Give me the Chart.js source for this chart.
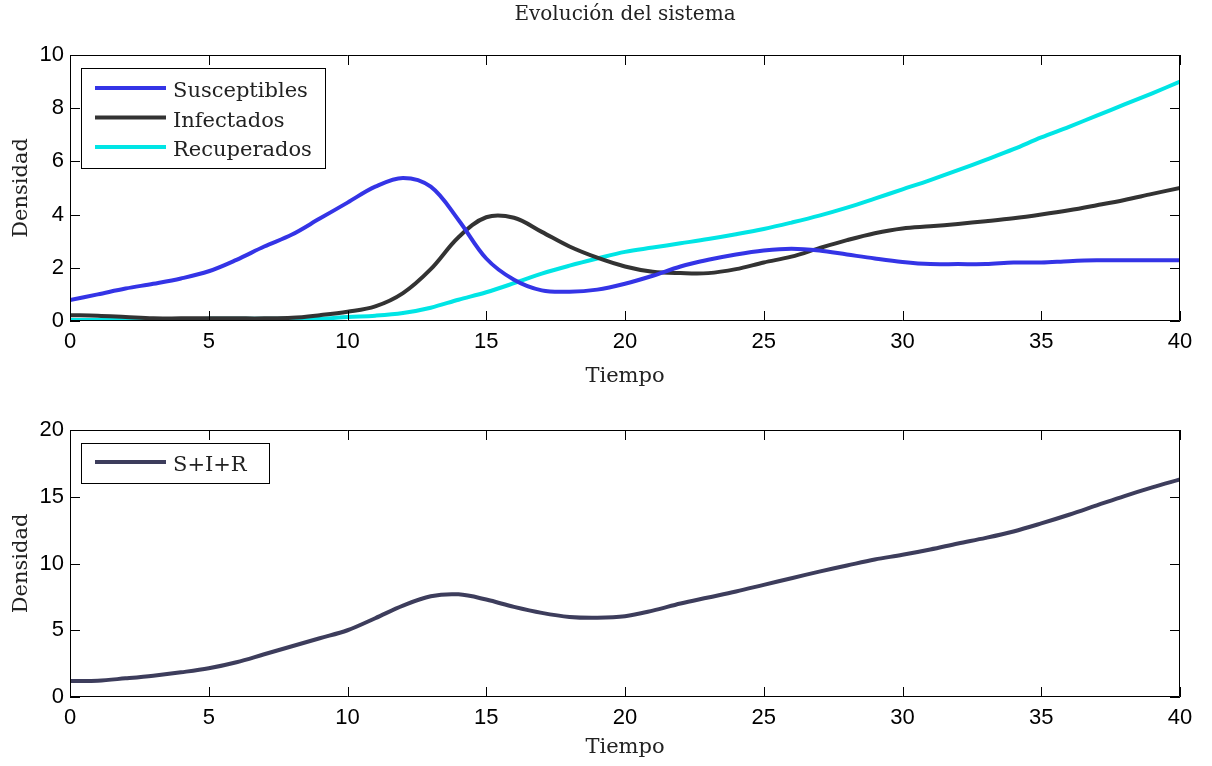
<!DOCTYPE html>
<html>
<head>
<meta charset="utf-8">
<script src="https://cdn.jsdelivr.net/npm/chart.js@4/dist/chart.umd.min.js"></script>
<style>
  body { margin: 0; background: #fff; }
  .panel { position: absolute; left: 0; }
</style>
</head>
<body>
<div class="panel" style="top:0px"><canvas id="sirChart" width="1212" height="400"></canvas></div>
<div class="panel" style="top:400px"><canvas id="totalChart" width="1212" height="366"></canvas></div>
<script>
// Datos (t = 0..40)
const tiempo = [0, 1, 2, 3, 4, 5, 6, 7, 8, 9, 10, 11, 12, 13, 14, 15, 16, 17, 18, 19, 20,
  21, 22, 23, 24, 25, 26, 27, 28, 29, 30, 31, 32, 33, 34, 35, 36, 37, 38, 39, 40];
const susceptibles = [0.79, 1.0, 1.22, 1.4, 1.6, 1.87, 2.3, 2.8, 3.25, 3.85, 4.45, 5.05, 5.38, 5.05, 3.8, 2.35, 1.55, 1.15, 1.1, 1.18, 1.4,
  1.7, 2.05, 2.3, 2.5, 2.65, 2.72, 2.65, 2.5, 2.35, 2.22, 2.14, 2.14, 2.14, 2.2, 2.2, 2.25, 2.28, 2.28, 2.28, 2.28];
const infectados = [0.22, 0.2, 0.15, 0.1, 0.1, 0.1, 0.1, 0.1, 0.12, 0.22, 0.35, 0.55, 1.05, 1.95, 3.15, 3.9, 3.88, 3.35, 2.8, 2.38, 2.05,
  1.85, 1.8, 1.8, 1.95, 2.2, 2.42, 2.74, 3.04, 3.3, 3.48, 3.56, 3.65, 3.75, 3.86, 4.0, 4.16, 4.35, 4.55, 4.78, 5.0];
const recuperados = [0.04, 0.04, 0.04, 0.04, 0.04, 0.08, 0.08, 0.08, 0.08, 0.08, 0.15, 0.2, 0.3, 0.5, 0.8, 1.08, 1.42, 1.78, 2.08, 2.35, 2.6,
  2.76, 2.92, 3.08, 3.26, 3.46, 3.7, 3.96, 4.26, 4.6, 4.95, 5.3, 5.67, 6.06, 6.46, 6.9, 7.3, 7.72, 8.14, 8.56, 9.0];
const total = [1.2, 1.22, 1.4, 1.6, 1.85, 2.15, 2.6, 3.2, 3.8, 4.4, 5.0, 5.9, 6.85, 7.55, 7.69, 7.3, 6.75, 6.3, 6.0, 5.94, 6.05,
  6.47, 7.0, 7.45, 7.9, 8.4, 8.9, 9.39, 9.85, 10.3, 10.65, 11.05, 11.5, 11.92, 12.4, 13.0, 13.65, 14.35, 15.05, 15.7, 16.3];

const serif = "'DejaVu Serif', serif";
const sans = "'Liberation Sans', Arial, sans-serif";

function puntos(valores) {
  return tiempo.map((t, i) => ({ x: t, y: valores[i] }));
}

// caja tipo MATLAB: marco completo, marcas hacia dentro, leyenda y titulo
const marcoPlugin = {
  id: "marco",
  afterDraw(chart, args, opts) {
    const { ctx, chartArea: a, scales } = chart;
    ctx.save();
    ctx.strokeStyle = "#000";
    ctx.lineWidth = 1;
    ctx.beginPath();
    ctx.rect(Math.round(a.left) + 0.5, Math.round(a.top) + 0.5, Math.round(a.right - a.left) - 1, Math.round(a.bottom - a.top) - 1);
    scales.x.ticks.forEach(t => {
      const px = Math.round(scales.x.getPixelForValue(t.value)) + 0.5;
      ctx.moveTo(px, a.bottom); ctx.lineTo(px, a.bottom - 10);
      ctx.moveTo(px, a.top); ctx.lineTo(px, a.top + 10);
    });
    scales.y.ticks.forEach(t => {
      const py = Math.round(scales.y.getPixelForValue(t.value)) + 0.5;
      ctx.moveTo(a.left, py); ctx.lineTo(a.left + 10, py);
      ctx.moveTo(a.right, py); ctx.lineTo(a.right - 10, py);
    });
    ctx.stroke();

    if (opts.titulo) {
      ctx.fillStyle = "#222";
      ctx.font = "20px " + serif;
      ctx.textAlign = "center";
      ctx.textBaseline = "alphabetic";
      ctx.fillText(opts.titulo, (a.left + a.right) / 2, 20);
    }

    // leyenda
    const lx = a.left + 11, ly = a.top + opts.top;
    ctx.fillStyle = "#fff";
    ctx.fillRect(lx, ly, opts.w, opts.h);
    ctx.strokeRect(lx + 0.5, ly + 0.5, opts.w, opts.h);
    ctx.font = "21px " + serif;
    ctx.textAlign = "left";
    ctx.textBaseline = "alphabetic";
    chart.data.datasets.forEach((ds, i) => {
      const y = ly + opts.first + i * 29.5;
      ctx.strokeStyle = ds.borderColor;
      ctx.lineWidth = 4;
      ctx.beginPath();
      ctx.moveTo(lx + 14, y);
      ctx.lineTo(lx + 85, y);
      ctx.stroke();
      ctx.fillStyle = "#222";
      ctx.fillText(ds.label, lx + 92, y + 9);
    });
    ctx.restore();
  }
};

function opciones(yMax, yStep, padTop, xHeight, titlePad, marco) {
  return {
    responsive: false,
    animation: false,
    devicePixelRatio: 1,
    layout: { padding: { top: padTop, right: 32, left: 0, bottom: 0 } },
    elements: { point: { radius: 0 }, line: { borderWidth: 4, tension: 0.35 } },
    plugins: { legend: { display: false }, tooltip: { enabled: false }, marco: marco },
    scales: {
      x: {
        type: "linear", min: 0, max: 40,
        afterFit(s) { s.height = xHeight; },
        ticks: { stepSize: 5, color: "#000", padding: 8, font: { family: sans, size: 22 } },
        grid: { display: false, drawTicks: false },
        border: { display: false },
        title: { display: true, text: "Tiempo", color: "#222", padding: { bottom: titlePad, top: 0 }, font: { family: serif, size: 21 } }
      },
      y: {
        min: 0, max: yMax,
        afterFit(s) { s.width = 70; },
        ticks: { stepSize: yStep, color: "#000", padding: 6, font: { family: sans, size: 22 } },
        grid: { display: false, drawTicks: false },
        border: { display: false },
        title: { display: true, text: "Densidad", color: "#222", padding: { top: 9, bottom: 0 }, font: { family: serif, size: 21 } }
      }
    }
  };
}

new Chart(document.getElementById("sirChart"), {
  type: "line",
  data: {
    datasets: [
      { label: "Susceptibles", data: puntos(susceptibles), borderColor: "#3434E6" },
      { label: "Infectados", data: puntos(infectados), borderColor: "#333333" },
      { label: "Recuperados", data: puntos(recuperados), borderColor: "#00E5E5" }
    ]
  },
  options: opciones(10, 2, 55, 79, 11, { titulo: "Evolución del sistema", top: 13, w: 244, h: 100, first: 20 }),
  plugins: [marcoPlugin]
});

new Chart(document.getElementById("totalChart"), {
  type: "line",
  data: {
    datasets: [
      { label: "S+I+R", data: puntos(total), borderColor: "#3D3D5C" }
    ]
  },
  options: opciones(20, 5, 30, 69, 6, { top: 13, w: 188, h: 40, first: 19 }),
  plugins: [marcoPlugin]
});
</script>
</body>
</html>
